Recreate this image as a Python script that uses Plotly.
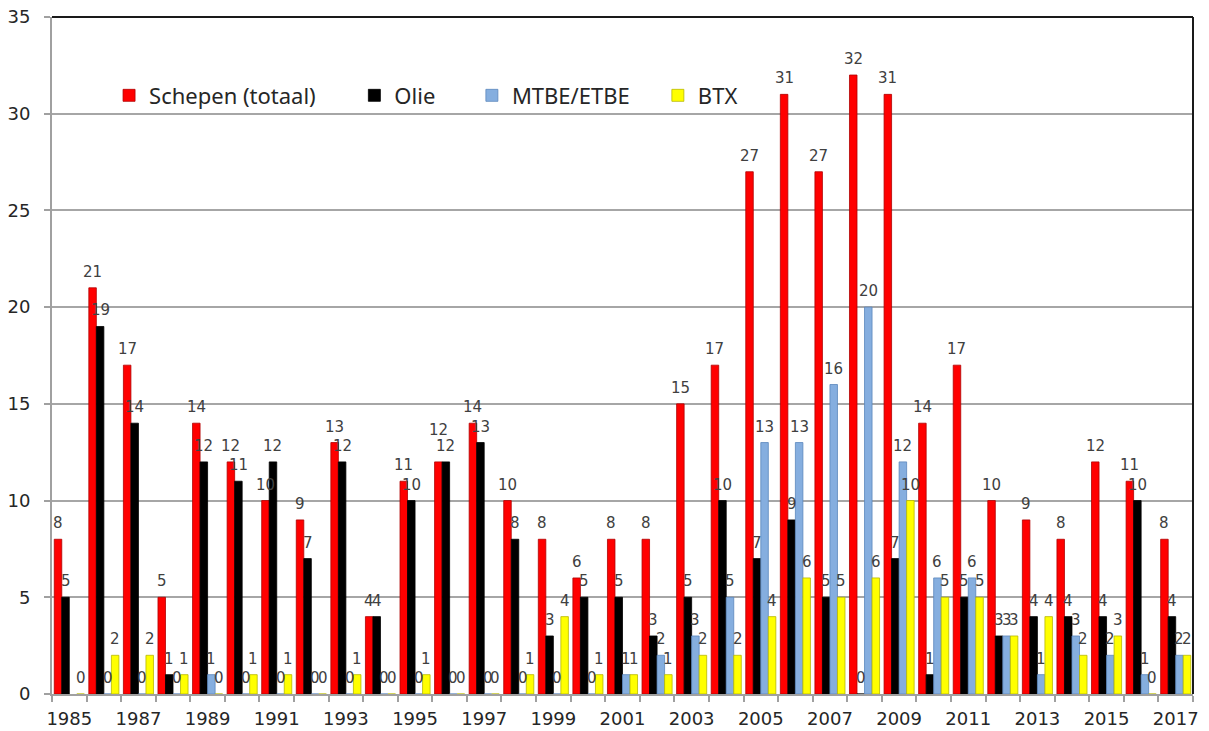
import plotly.graph_objects as go

# Incidents per year, by category
years = list(range(1985, 2018))
schepen = [8, 21, 17, 5, 14, 12, 10, 9, 13, 4, 11, 12, 14, 10, 8, 6, 8, 8, 15, 17,
           27, 31, 27, 32, 31, 14, 17, 10, 9, 8, 12, 11, 8]
olie = [5, 19, 14, 1, 12, 11, 12, 7, 12, 4, 10, 12, 13, 8, 3, 5, 5, 3, 5, 10,
        7, 9, 5, 0, 7, 1, 5, 3, 4, 4, 4, 10, 4]
mtbe = [None, 0, 0, 0, 1, 0, 0, 0, 0, 0, 0, 0, 0, 0, 0, 0, 1, 2, 3, 5,
        13, 13, 16, 20, 12, 6, 6, 3, 1, 3, 2, 1, 2]
btx = [0, 2, 2, 1, 0, 1, 1, 0, 1, 0, 1, 0, 0, 1, 4, 1, 1, 1, 2, 2,
       4, 6, 5, 6, 10, 5, 5, 3, 4, 2, 3, 0, 2]
tick_years = list(range(1985, 2018, 2))

series = [
    ("Schepen (totaal)", schepen, "#FF0000", "#B00000", "legend", 0.050),
    ("Olie", olie, "#000000", "#000000", "legend2", 0.265),
    ("MTBE/ETBE", mtbe, "#85AEDF", "#5A86BC", "legend3", 0.368),
    ("BTX", btx, "#FFFF00", "#B8B800", "legend4", 0.531),
]

# plot-area geometry (px) used to place value labels over their bars
W, H = 1209, 731
M = dict(l=52, r=16, t=17, b=37)
X_RANGE = [1984.5, 2017.5]
BARGAP = 0.13
cat_px = (W - M["l"] - M["r"]) / (X_RANGE[1] - X_RANGE[0])
bar_px = cat_px * (1 - BARGAP) / len(series)

LABEL_FONT = "DejaVu Sans"
LABEL_LIFT = 16
# labels nudged upward where two equal neighbours would collide
extra_lift = {("Schepen (totaal)", 1996): 16}

fig = go.Figure()
layout_legends = {}
annotations = []
for i, (name, vals, color, edge, leg, lx) in enumerate(series):
    fig.add_trace(go.Bar(
        x=years, y=vals, name=name,
        marker=dict(color=color, line=dict(color=edge, width=0.8)),
        legend=leg,
        hoverinfo="x+y+name",
    ))
    layout_legends[leg] = dict(
        x=lx, y=0.884, xanchor="left", yanchor="middle",
        orientation="h", bgcolor="rgba(0,0,0,0)", borderwidth=0,
        font=dict(family="Noto Sans", size=22, color="#262626"),
        itemclick=False,
    )
    for yr, v in zip(years, vals):
        if v is None:
            continue
        annotations.append(dict(
            x=yr, y=v, xref="x", yref="y", text=str(v), showarrow=False,
            xanchor="center", yanchor="middle",
            xshift=(i - (len(series) - 1) / 2) * bar_px,
            yshift=LABEL_LIFT + extra_lift.get((name, yr), 0),
            font=dict(family=LABEL_FONT, size=15, color="#404040"),
        ))

fig.update_layout(
    width=W, height=H,
    margin=M,
    paper_bgcolor="white", plot_bgcolor="white",
    barmode="group", bargap=BARGAP, bargroupgap=0,
    showlegend=True,
    annotations=annotations,
    **layout_legends,
)

fig.update_xaxes(
    range=X_RANGE, automargin=False,
    tickmode="array", tickvals=tick_years, ticktext=[str(y) for y in tick_years],
    ticks="outside", ticklen=6, tickcolor="rgba(0,0,0,0)", ticklabelstandoff=1,
    tickfont=dict(family=LABEL_FONT, size=18, color="#262626"),
    showline=True, linecolor="#A0A0A0", linewidth=2,
    showgrid=False, zeroline=False,
    minor=dict(tickmode="linear", tick0=1984.5, dtick=1, ticks="outside",
               ticklen=6, tickcolor="#A0A0A0", tickwidth=2, showgrid=False),
)
fig.update_yaxes(
    range=[0, 35], dtick=5, tick0=0, automargin=False,
    ticks="outside", ticklen=6, tickcolor="#A0A0A0", tickwidth=2,
    ticklabelstandoff=10,
    tickfont=dict(family=LABEL_FONT, size=18, color="#262626"),
    showline=True, linecolor="#A0A0A0", linewidth=2,
    showgrid=True, gridcolor="#A6A6A6", gridwidth=2,
    zeroline=False,
)

# Dark frame on the top and right edges of the plot area
fig.add_shape(type="line", xref="paper", yref="paper", x0=0, x1=1, y0=1, y1=1,
              line=dict(color="#1A1A1A", width=2))
fig.add_shape(type="line", xref="paper", yref="paper", x0=1, x1=1, y0=0, y1=1,
              line=dict(color="#1A1A1A", width=2))

fig.write_html("out.html")
